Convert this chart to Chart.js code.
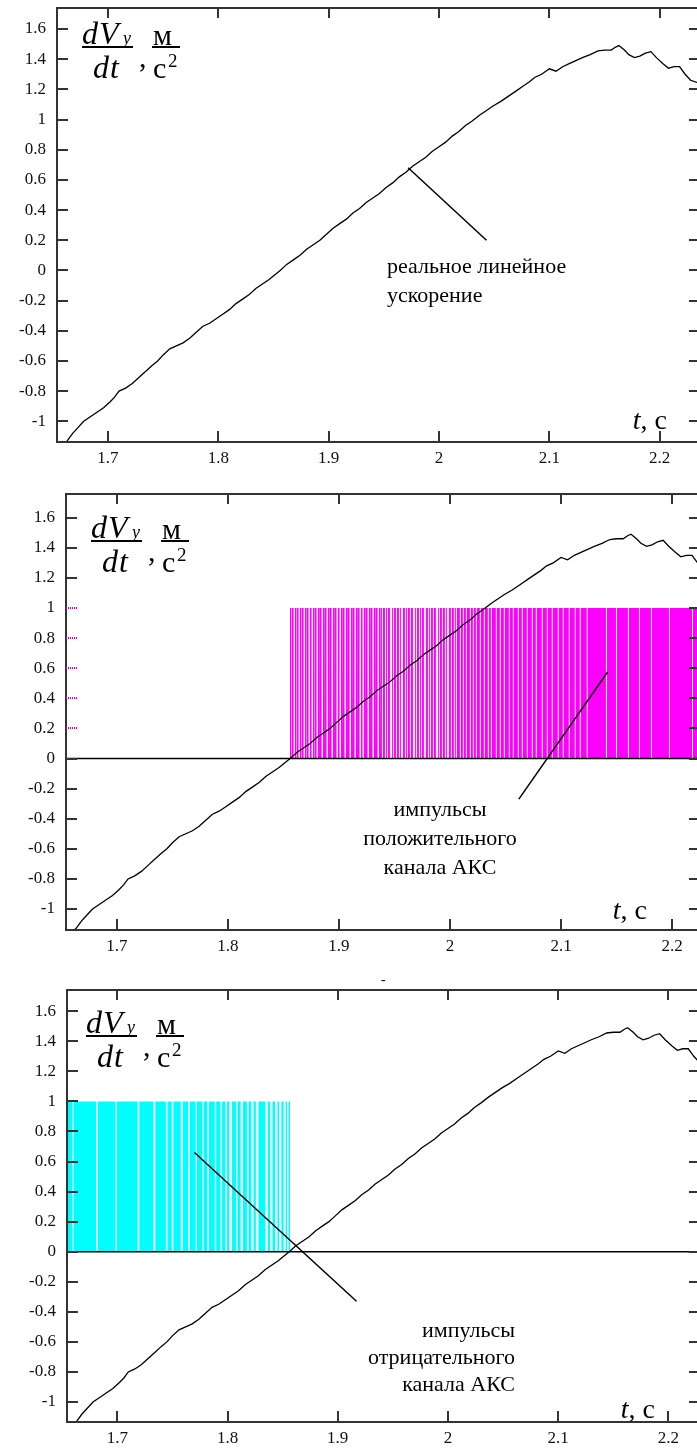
<!DOCTYPE html>
<html><head><meta charset="utf-8">
<script src="https://cdn.jsdelivr.net/npm/chart.js@4.4.1/dist/chart.umd.min.js"></script>
<style>
html,body{margin:0;padding:0;background:#fff;}
body{width:697px;height:1450px;overflow:hidden;position:relative;font-family:"Liberation Serif","DejaVu Serif",serif;color:#000;}
canvas{position:absolute;left:0;}
.ann{position:absolute;font-size:22px;line-height:29px;white-space:nowrap;}
.tc{position:absolute;font-size:28px;line-height:30px;white-space:nowrap;}
.f{position:absolute;width:0;height:0;}
.f span,.f div{position:absolute;white-space:nowrap;line-height:1;}
.f .bar{height:2px;background:#000;}
</style>
</head><body>
<canvas id="c1" width="702" height="470" style="top:0px"></canvas>
<canvas id="c2" width="702" height="472" style="top:486px"></canvas>
<canvas id="c3" width="702" height="468" style="top:982px"></canvas>

<div class="ann" style="left:387px;top:251px;">реальное линейное<br>ускорение</div>
<div class="ann" style="left:340px;top:794px;width:200px;text-align:center;">импульсы<br>положительного<br>канала АКС</div>
<div class="ann" style="right:182px;top:1316px;text-align:right;line-height:27px;">импульсы<br>отрицательного<br>канала АКС</div>

<div class="tc" style="right:30px;top:405px;"><i>t</i>, с</div>
<div class="tc" style="right:50px;top:895px;"><i>t</i>, с</div>
<div class="tc" style="right:42px;top:1394px;"><i>t</i>, с</div>
<div style="position:absolute;left:381px;top:972px;font-size:14px;">-</div>

<script>
// ---- data ----
const xTicks = [1.7, 1.8, 1.9, 2.0, 2.1, 2.2];
const xTickLabels = ['1.7', '1.8', '1.9', '2', '2.1', '2.2'];
const yTicks = [1.6, 1.4, 1.2, 1, 0.8, 0.6, 0.4, 0.2, 0, -0.2, -0.4, -0.6, -0.8, -1];
const yTickLabels = ['1.6', '1.4', '1.2', '1', '0.8', '0.6', '0.4', '0.2', '0', '-0.2', '-0.4', '-0.6', '-0.8', '-1'];

const accelTime = [1.659,1.663,1.668,1.673,1.678,1.684,1.690,1.696,1.702,1.706,1.710,1.716,1.722,1.728,1.734,1.740,1.745,1.750,1.756,1.762,1.768,1.774,1.780,1.786,1.792,1.798,1.804,1.810,1.816,1.822,1.828,1.834,1.840,1.846,1.851,1.856,1.862,1.868,1.874,1.880,1.886,1.892,1.898,1.904,1.910,1.916,1.922,1.928,1.934,1.940,1.946,1.952,1.958,1.964,1.970,1.976,1.982,1.988,1.994,2.000,2.006,2.012,2.018,2.024,2.030,2.037,2.043,2.049,2.056,2.064,2.070,2.076,2.082,2.087,2.093,2.100,2.106,2.112,2.118,2.124,2.130,2.137,2.144,2.150,2.156,2.160,2.163,2.168,2.172,2.177,2.182,2.187,2.192,2.197,2.203,2.208,2.213,2.218,2.223,2.228,2.236];
const accelValue = [-1.16,-1.13,-1.08,-1.04,-1.00,-0.97,-0.94,-0.91,-0.87,-0.84,-0.80,-0.78,-0.75,-0.71,-0.67,-0.63,-0.60,-0.56,-0.52,-0.50,-0.48,-0.45,-0.41,-0.37,-0.35,-0.32,-0.29,-0.26,-0.22,-0.19,-0.16,-0.12,-0.09,-0.06,-0.03,0.00,0.04,0.07,0.10,0.14,0.17,0.20,0.24,0.28,0.31,0.34,0.38,0.41,0.45,0.48,0.51,0.55,0.58,0.62,0.65,0.69,0.72,0.75,0.79,0.82,0.85,0.89,0.92,0.96,0.99,1.03,1.06,1.09,1.12,1.16,1.19,1.22,1.25,1.28,1.30,1.336,1.32,1.35,1.37,1.39,1.41,1.43,1.455,1.46,1.46,1.48,1.49,1.46,1.43,1.41,1.42,1.44,1.45,1.41,1.37,1.34,1.35,1.35,1.30,1.26,1.24];

// pulses of the positive AKS channel [start, end], s (value 1)
const posPulses = [
[1.8558,1.8572],[1.8577,1.8591],[1.8603,1.8617],[1.8622,1.8636],[1.8648,1.8662],[1.8667,1.8681],[1.8694,1.8708],[1.8712,1.8726],[1.8739,1.8753],[1.8766,1.8780],[1.8784,1.8798],[1.8811,1.8825],[1.8829,1.8843],[1.8856,1.8870],[1.8874,1.8888],[1.8901,1.8915],[1.8919,1.8933],[1.8946,1.8960],[1.8964,1.8978],[1.8991,1.9005],[1.9018,1.9032],[1.9036,1.9050],[1.9063,1.9077],[1.9081,1.9095],[1.9108,1.9122],[1.9126,1.9140],[1.9153,1.9167],[1.9171,1.9185],[1.9198,1.9212],[1.9225,1.9239],[1.9243,1.9257],[1.9270,1.9284],[1.9288,1.9302],[1.9315,1.9329],[1.9333,1.9347],[1.9360,1.9372],
[1.9378,1.9387],[1.9396,1.9414],[1.9423,1.9432],[1.9441,1.9459],[1.9477,1.9486],[1.9495,1.9513],[1.9522,1.9540],[1.9549,1.9558],[1.9576,1.9594],[1.9603,1.9612],[1.9621,1.9639],[1.9648,1.9666],[1.9684,1.9693],[1.9702,1.9720],[1.9729,1.9738],[1.9747,1.9765],[1.9783,1.9801],[1.9810,1.9819],[1.9828,1.9846],[1.9855,1.9873],[1.9891,1.9900],[1.9909,1.9927],[1.9936,1.9954],[1.9963,1.9972],[1.9990,2.0008],[2.0017,2.0035],[2.0044,2.0053],[2.0062,2.0089],[2.0098,2.0116],[2.0125,2.0143],[2.0152,2.0179],[2.0188,2.0206],[2.0215,2.0233],[2.0242,2.0269],
[2.0278,2.0305],[2.0314,2.0341],[2.0350,2.0368],[2.0377,2.0413],[2.0422,2.0449],[2.0458,2.0485],[2.0494,2.0530],[2.0539,2.0566],[2.0575,2.0611],[2.0620,2.0647],[2.0656,2.0692],[2.0701,2.0737],[2.0746,2.0773],[2.0782,2.0827],[2.0836,2.0872],[2.0881,2.0917],[2.0926,2.0971],[2.0980,2.1016],[2.1025,2.1070],[2.1079,2.1124],[2.1133,2.1169],[2.1178,2.1232],
[2.1241,2.1405],[2.1414,2.1495],[2.1504,2.1603],[2.1612,2.1702],[2.1711,2.1810],[2.1819,2.1972],[2.1981,2.2180],[2.2189,2.2300]
];

// pulses of the negative AKS channel [start, end], s (value 1)
const negPulses = [
[1.6540,1.6594],[1.6606,1.6810],[1.6825,1.6984],[1.6996,1.7185],[1.7200,1.7327],[1.7345,1.7441],[1.7455,1.7495],[1.7509,1.7576],[1.7594,1.7644],[1.7660,1.7711],[1.7723,1.7771],[1.7783,1.7816],[1.7831,1.7885],[1.7897,1.7936],[1.7951,1.7981],[1.7996,1.8017],[1.8041,1.8077],[1.8090,1.8119],[1.8140,1.8176],[1.8191,1.8216],[1.8236,1.8257],[1.8281,1.8342],[1.8365,1.8387],[1.8408,1.8432],[1.8453,1.8468],[1.8489,1.8509],[1.8527,1.8540],[1.8554,1.8567]
];

// annotation pointer anchors [t, value]
const pointer1 = [[1.972, 0.68], [2.043, 0.20]];
const pointer2 = [[2.142, 0.575], [2.062, -0.27]];
const pointer3 = [[1.770, 0.66], [1.917, -0.33]];

// ---- helpers ----
const curveData = accelTime.map((t, i) => ({x: t, y: accelValue[i]}));
function pulseData(p) {
  const d = [];
  p.forEach(([s, e]) => { d.push({x: s, y: 0}, {x: s, y: 1}, {x: e, y: 1}, {x: e, y: 0}); });
  return d;
}

function framePlugin(cfg) {
  return {
    id: 'frame',
    afterDraw(chart) {
      const {ctx, chartArea: a, scales: {x, y}} = chart;
      ctx.save();
      ctx.strokeStyle = '#333';
      ctx.lineWidth = 2;
      ctx.strokeRect(a.left, a.top, a.right - a.left, a.bottom - a.top);
      const seg = (x1, y1, x2, y2) => { ctx.beginPath(); ctx.moveTo(x1, y1); ctx.lineTo(x2, y2); ctx.stroke(); };
      ctx.lineWidth = 2;
      x.ticks.forEach(t => {
        const px = Math.round(x.getPixelForValue(t.value));
        seg(px, a.bottom, px, a.bottom - 11);
        seg(px, a.top, px, a.top + 10);
      });
      y.ticks.forEach(t => {
        const py = Math.round(y.getPixelForValue(t.value));
        if (cfg.magentaTicks && t.value > 0.05 && t.value < 1.05) {
          ctx.save(); ctx.strokeStyle = '#e000e0'; ctx.setLineDash([1, 1]);
          seg(a.left, py, a.left + 11, py);
          ctx.restore();
        } else {
          seg(a.left, py, a.left + 11, py);
        }
        seg(a.right, py, a.right - 10, py);
      });
      if (cfg.pointer) {
        ctx.strokeStyle = '#000';
        ctx.lineWidth = 1.5;
        const p = cfg.pointer;
        seg(x.getPixelForValue(p[0][0]), y.getPixelForValue(p[0][1]), x.getPixelForValue(p[1][0]), y.getPixelForValue(p[1][1]));
      }
      ctx.restore();
    }
  };
}

function makePanel(id, cfg) {
  const datasets = [{
    data: curveData, borderColor: '#000', borderWidth: 1.3, pointRadius: 0, tension: 0, fill: false, order: 0
  }];
  if (cfg.zero) {
    datasets.push({data: [{x: cfg.xMin, y: 0}, {x: cfg.xMax, y: 0}], borderColor: '#000', borderWidth: 1.5, pointRadius: 0, fill: false, order: 1});
  }
  if (cfg.pulses) {
    datasets.push({data: pulseData(cfg.pulses), borderColor: 'rgba(0,0,0,0)', borderWidth: 0, backgroundColor: cfg.pulseColor, pointRadius: 0, tension: 0, fill: 'origin', order: 2});
  }
  const tickFont = {family: 'Liberation Serif', size: 17};
  new Chart(document.getElementById(id), {
    type: 'line',
    data: {datasets},
    options: {
      animation: false, responsive: false, devicePixelRatio: 1, events: [],
      layout: {padding: {top: 8, right: 3, left: 0, bottom: 0}},
      plugins: {legend: {display: false}, tooltip: {enabled: false}},
      scales: {
        x: {
          type: 'linear', min: cfg.xMin, max: cfg.xMax, position: 'bottom',
          grid: {display: false, drawTicks: false}, border: {display: false},
          afterBuildTicks: s => { s.ticks = xTicks.map(v => ({value: v})); },
          afterFit: s => { s.height = 28; s.paddingLeft = 0; s.paddingRight = 0; },
          ticks: {padding: 6, autoSkip: false, maxRotation: 0, font: tickFont, color: '#111',
            callback: (v, i) => xTickLabels[i]}
        },
        y: {
          type: 'linear', min: cfg.yMin, max: cfg.yMax, position: 'left',
          grid: {display: false, drawTicks: false}, border: {display: false},
          afterBuildTicks: s => { s.ticks = yTicks.map(v => ({value: v})); },
          afterFit: s => { s.width = cfg.yWidth; s.paddingTop = 0; s.paddingBottom = 0; },
          ticks: {padding: 11, autoSkip: false, font: tickFont, color: '#111',
            callback: (v, i) => yTickLabels[i]}
        }
      }
    },
    plugins: [framePlugin(cfg)]
  });
}

makePanel('c1', {xMin: 1.6538, xMax: 2.2356, yMin: -1.137, yMax: 1.739, yWidth: 57, pointer: pointer1});
makePanel('c2', {xMin: 1.6541, xMax: 2.2243, yMin: -1.1395, yMax: 1.7575, yWidth: 66, zero: true, pulses: posPulses, pulseColor: '#ff00ff', magentaTicks: true, pointer: pointer2});
makePanel('c3', {xMin: 1.6544, xMax: 2.2277, yMin: -1.133, yMax: 1.741, yWidth: 67, zero: true, pulses: negPulses, pulseColor: '#00ffff', pointer: pointer3});

// ---- axis title formulas ----
function formula(L, barY) {
  const f = document.createElement('div');
  f.className = 'f';
  f.style.left = L + 'px';
  f.style.top = barY + 'px';
  f.innerHTML =
    '<span style="left:0;top:-30px;font-size:32px;font-style:italic;letter-spacing:1px;">dV</span>' +
    '<span style="left:41px;top:-18px;font-size:18px;font-style:italic;">y</span>' +
    '<div class="bar" style="left:0;top:-1px;width:51px;"></div>' +
    '<span style="left:11px;top:4px;font-size:32px;font-style:italic;letter-spacing:1px;">dt</span>' +
    '<span style="left:57px;top:-5px;font-size:30px;">,</span>' +
    '<span style="left:71px;top:-27px;font-size:30px;">м</span>' +
    '<div class="bar" style="left:70px;top:-1px;width:28px;"></div>' +
    '<span style="left:71px;top:6px;font-size:30px;">с</span>' +
    '<span style="left:86px;top:4px;font-size:19px;">2</span>';
  document.body.appendChild(f);
}
formula(82, 47);
formula(91, 541);
formula(86, 1036);
</script>
</body></html>
